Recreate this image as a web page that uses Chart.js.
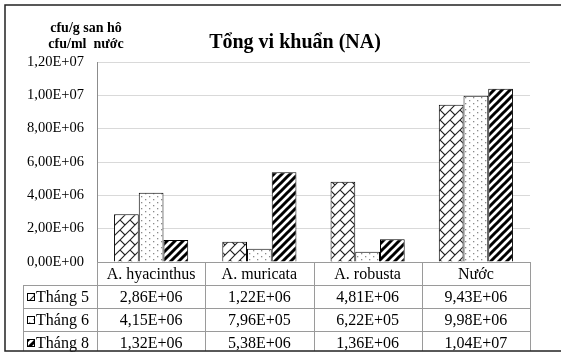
<!DOCTYPE html>
<html><head><meta charset="utf-8">
<script src="https://cdn.jsdelivr.net/npm/chart.js@4"></script>
<style>html,body{margin:0;padding:0;background:#fff;} canvas{display:block;}</style>
</head><body>
<canvas id="c" width="561" height="354"></canvas>
<script>
const categories = ["A. hyacinthus", "A. muricata", "A. robusta", "Nước"];
const seriesNames = ["Tháng 5", "Tháng 6", "Tháng 8"];
const thang5 = [2.86e6, 1.22e6, 4.81e6, 9.43e6];
const thang6 = [4.15e6, 7.96e5, 6.22e5, 9.98e6];
const thang8 = [1.32e6, 5.38e6, 1.36e6, 1.04e7];
const yTicks = [0, 2e6, 4e6, 6e6, 8e6, 1e7, 1.2e7];
const chartTitle = "Tổng vi khuẩn (NA)";
const yTitleLines = ["cfu/g san hô", "cfu/ml  nước"];

const SERIF = '"Liberation Serif", "Times New Roman", "DejaVu Serif", serif';

function fmt(v) {
  const parts = Number(v).toExponential(2).split('e');
  const n = parseInt(parts[1], 10);
  return parts[0].replace('.', ',') + 'E' + (n < 0 ? '-' : '+') + String(Math.abs(n)).padStart(2, '0');
}

const canvas = document.getElementById('c');
const ctx = canvas.getContext('2d');
function mk(w, h, draw) {
  const c = document.createElement('canvas'); c.width = w; c.height = h;
  const x = c.getContext('2d');
  x.fillStyle = '#fff'; x.fillRect(0, 0, w, h);
  draw(x, w, h);
  return ctx.createPattern(c, 'repeat');
}
const pBrick = mk(10, 10, (x) => {
  x.strokeStyle = '#222'; x.lineWidth = 1.1; x.beginPath();
  for (const k of [0, 10, 20]) { x.moveTo(-2, k + 2); x.lineTo(k + 2, -2); }
  x.moveTo(0, 0); x.lineTo(5, 5);
  x.stroke();
});
const pDots = mk(8, 6, (x) => {
  x.fillStyle = '#8a8a8a';
  x.fillRect(1, 1, 1.3, 1.3);
  x.fillRect(5, 4, 1.3, 1.3);
});
const pStripe = mk(8, 8, (x) => {
  x.strokeStyle = '#000'; x.lineWidth = 3; x.beginPath();
  for (const k of [0, 8, 16]) { x.moveTo(-2, k + 2); x.lineTo(k + 2, -2); }
  x.stroke();
});
const patterns = [pBrick, pDots, pStripe];
const seriesData = [thang5, thang6, thang8];

const overlay = {
  id: 'overlay',
  afterDraw(chart) {
    const c = chart.ctx;
    const a = chart.chartArea;
    const xs = chart.scales.x;
    c.save();
    c.fillStyle = '#000';
    c.textAlign = 'center';
    c.textBaseline = 'alphabetic';
    c.font = 'bold 20px ' + SERIF;
    c.fillText(chartTitle, 295, 48);
    c.font = 'bold 14px ' + SERIF;
    c.fillText(yTitleLines[0], 86, 32);
    c.fillText(yTitleLines[1], 86, 48);

    const rowH = 23;
    const top = a.bottom;
    const bottom = 351;
    const legLeft = 23;
    const colW = (a.right - a.left) / categories.length;
    c.strokeStyle = '#9a9a9a';
    c.lineWidth = 1;
    c.beginPath();
    c.moveTo(a.left, top + 0.5); c.lineTo(a.right, top + 0.5);
    for (let r = 1; r <= 3; r++) {
      const y = Math.round(top + r * rowH) + 0.5;
      c.moveTo(legLeft, y); c.lineTo(a.right, y);
    }
    for (let i = 0; i <= categories.length; i++) {
      const x = Math.round(a.left + i * colW) + 0.5;
      c.moveTo(x, top); c.lineTo(x, bottom);
    }
    c.moveTo(legLeft + 0.5, top + rowH); c.lineTo(legLeft + 0.5, bottom);
    c.stroke();

    c.font = '16px ' + SERIF;
    c.textBaseline = 'middle';
    c.textAlign = 'center';
    categories.forEach((cat, i) => {
      c.fillText(cat, xs.getPixelForValue(i), top + rowH / 2 + 1);
    });
    seriesData.forEach((arr, s) => {
      const cy = top + (s + 1) * rowH + rowH / 2 + 1;
      c.textAlign = 'center';
      arr.forEach((v, i) => c.fillText(fmt(v), xs.getPixelForValue(i), cy));
      c.fillStyle = patterns[s];
      c.fillRect(27, cy - 4.5, 7, 7);
      c.strokeStyle = '#000';
      c.strokeRect(27.5, cy - 4, 7, 7);
      c.fillStyle = '#000';
      c.textAlign = 'left';
      c.fillText(seriesNames[s], 36, cy);
    });

    c.strokeStyle = '#222';
    c.lineWidth = 1.5;
    c.strokeRect(5, 5, 600, 346);
    c.restore();
  }
};

function build() {
  new Chart(ctx, {
    type: 'bar',
    data: {
      labels: categories,
      datasets: seriesNames.map((n, s) => ({
        label: n,
        data: seriesData[s],
        backgroundColor: patterns[s],
        borderColor: '#000',
        borderWidth: 1
      }))
    },
    options: {
      responsive: false,
      animation: false,
      devicePixelRatio: 1,
      layout: { padding: { left: 0, right: 31, top: 62, bottom: 92 } },
      datasets: { bar: { categoryPercentage: 0.685, barPercentage: 1 } },
      plugins: { legend: { display: false }, tooltip: { enabled: false }, title: { display: false } },
      scales: {
        x: { display: false },
        y: {
          min: 0, max: 1.2e7,
          afterBuildTicks: (s) => { s.ticks = yTicks.map(v => ({ value: v })); },
          afterFit: (s) => { s.width = 97; },
          border: { color: '#8c8c8c' },
          grid: { color: '#d9d9d9', drawTicks: false },
          ticks: {
            padding: 13, color: '#000',
            font: { family: SERIF, size: 14.5 },
            callback: (v) => fmt(v)
          }
        }
      }
    },
    plugins: [overlay]
  });
}
if (document.fonts && document.fonts.load) {
  Promise.all([
    document.fonts.load('16px "Liberation Serif"'),
    document.fonts.load('bold 16px "Liberation Serif"')
  ]).then(build, build);
} else {
  build();
}
</script>
</body></html>
